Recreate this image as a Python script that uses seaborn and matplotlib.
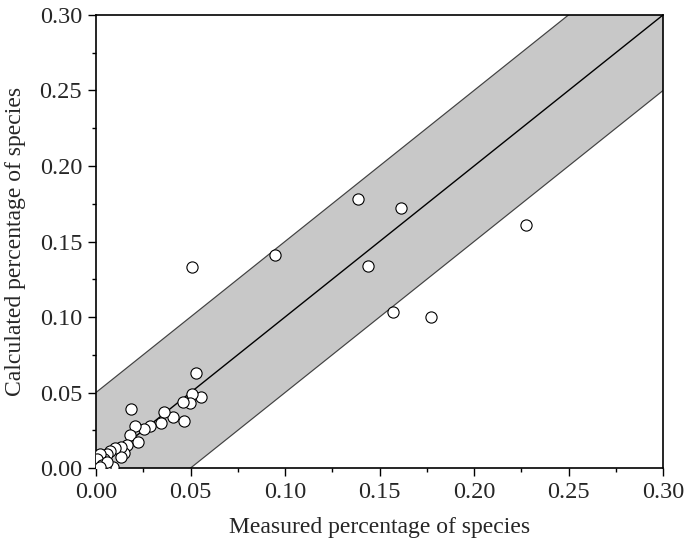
import numpy as np
import pandas as pd
import seaborn as sns
import matplotlib
import matplotlib.pyplot as plt
from matplotlib.ticker import MultipleLocator

matplotlib.use('Agg')

# measured vs calculated percentage of species
measured = [0.2275, 0.1772, 0.157, 0.1441, 0.1614, 0.1386, 0.0946, 0.0508,
            0.0529, 0.0556, 0.0506, 0.0497, 0.0459, 0.0467, 0.0409, 0.036,
            0.0344, 0.0286, 0.0256, 0.0185, 0.0206, 0.018, 0.022, 0.0164,
            0.0146, 0.0134, 0.0131, 0.0102, 0.0088, 0.0076, 0.0058, 0.0046,
            0.0041, 0.0028, 0.0023, 0.0015, 0.001, 0.0005, 0.003, 0.006, 0.002]
calculated = [0.161, 0.100, 0.103, 0.134, 0.172, 0.178, 0.141, 0.133,
              0.063, 0.047, 0.049, 0.043, 0.044, 0.031, 0.034, 0.037,
              0.030, 0.028, 0.026, 0.039, 0.028, 0.022, 0.017, 0.015,
              0.010, 0.014, 0.007, 0.013, 0.001, 0.011, 0.009, 0.001,
              0.006, 0.005, 0.009, 0.004, 0.002, 0.006, 0.002, 0.004, 0.0005]
band = 0.05
diag = [0.0, 0.30]

df = pd.DataFrame({'measured': measured, 'calculated': calculated})

sns.set_style('ticks')
plt.rcParams['font.family'] = ['Liberation Serif', 'DejaVu Serif']

fig = plt.figure(figsize=(6.86, 5.47), dpi=100)
ax = fig.add_axes([0.140, 0.1444, 0.8265, 0.8282])

xs = np.array(diag)
ax.fill_between(xs, xs - band, xs + band, color='#c8c8c8', zorder=1)
ax.plot(xs, xs - band, color='#404040', lw=0.8, zorder=2)
ax.plot(xs, xs + band, color='#404040', lw=0.8, zorder=2)
sns.lineplot(x=diag, y=diag, color='black', lw=1.0, ax=ax, zorder=3)

sns.scatterplot(data=df, x='measured', y='calculated', ax=ax, s=65,
                facecolor='white', edgecolor='black', linewidth=0.8, zorder=4)

ax.set_xlim(0, 0.30)
ax.set_ylim(0, 0.30)
ax.xaxis.set_major_locator(MultipleLocator(0.05))
ax.yaxis.set_major_locator(MultipleLocator(0.05))
ax.xaxis.set_minor_locator(MultipleLocator(0.025))
ax.yaxis.set_minor_locator(MultipleLocator(0.025))
ax.xaxis.set_major_formatter(matplotlib.ticker.FormatStrFormatter('%.2f'))
ax.yaxis.set_major_formatter(matplotlib.ticker.FormatStrFormatter('%.2f'))
ax.tick_params(which='major', direction='out', length=6, width=1, labelsize=17.5,
               color='black', pad=4)
ax.tick_params(which='minor', direction='out', length=3, width=1, color='black')
for sp in ax.spines.values():
    sp.set_linewidth(1.2)
    sp.set_color('black')

ax.set_xlabel('Measured percentage of species', fontsize=17, labelpad=10)
ax.set_ylabel('Calculated percentage of species', fontsize=17, labelpad=10)

fig.savefig('out.png', dpi=100)
